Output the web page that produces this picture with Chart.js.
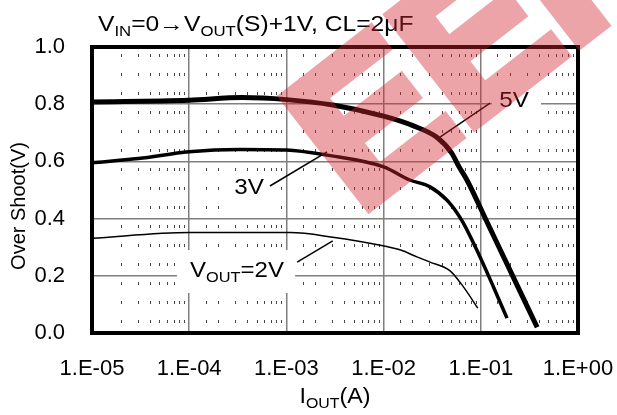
<!DOCTYPE html>
<html>
<head>
<meta charset="utf-8">
<script src="https://cdn.jsdelivr.net/npm/chart.js@4.4.1/dist/chart.umd.min.js"></script>
<style>
  html, body { margin: 0; padding: 0; background: #fff; }
</style>
</head>
<body>
<canvas id="chart" width="617" height="415"></canvas>
<script>
// values
const iout5 = [1e-5, 1e-4, 3.5e-4, 1e-3, 3e-3, 1e-2, 2e-2, 3.5e-2, 5e-2, 6e-2, 7.2e-2, 0.12, 0.2, 0.38];
const over5 = [0.808, 0.814, 0.823, 0.816, 0.797, 0.758, 0.725, 0.685, 0.63, 0.58, 0.535, 0.377, 0.219, 0.02];

const iout3 = [1e-5, 3e-5, 1e-4, 3.3e-4, 1e-3, 2.6e-3, 1e-2, 1.86e-2, 3e-2, 4.47e-2, 5.7e-2, 6.6e-2, 9.1e-2, 0.135, 0.186];
const over3 = [0.595, 0.61, 0.634, 0.642, 0.64, 0.622, 0.581, 0.535, 0.511, 0.465, 0.42, 0.385, 0.29, 0.161, 0.052];

const iout2 = [1e-5, 1e-4, 1.1e-3, 3e-3, 9e-3, 1.5e-2, 2.2e-2, 3e-2, 4.8e-2, 6.6e-2, 9.3e-2];
const over2 = [0.331, 0.351, 0.351, 0.335, 0.308, 0.29, 0.266, 0.248, 0.218, 0.162, 0.087];

// leader lines from the labels to the curves
const lead5x = [0.038, 0.1245];
const lead5y = [0.685, 0.804];
const lead3x = [6.77e-4, 2.62e-3];
const lead3y = [0.514, 0.633];
const lead2x = [1.29e-3, 3.0e-3];
const lead2y = [0.248, 0.322];

const xTickLabels = ['1.E-05', '1.E-04', '1.E-03', '1.E-02', '1.E-01', '1.E+00'];
const yTickLabels = ['0.0', '0.2', '0.4', '0.6', '0.8', '1.0'];

const FONT = '"Liberation Sans", Arial, sans-serif';

function pts(xs, ys) {
  return xs.map((x, i) => ({ x: x, y: ys[i] }));
}

function isDecade(v) {
  const l = Math.log10(v);
  return Math.abs(l - Math.round(l)) < 1e-6;
}

// draws text made of [string, isSub] parts, stretched by sx
function drawRich(ctx, parts, x, y, size, subSize, align, sx) {
  sx = sx || 1;
  let w = 0;
  parts.forEach(p => {
    ctx.font = (p[1] ? subSize : size) + 'px ' + FONT;
    w += ctx.measureText(p[0]).width;
  });
  ctx.save();
  ctx.translate(x, y);
  ctx.scale(sx, 1);
  let cx = align === 'center' ? -w / 2 : 0;
  ctx.textAlign = 'left';
  ctx.textBaseline = 'alphabetic';
  parts.forEach(p => {
    ctx.font = (p[1] ? subSize : size) + 'px ' + FONT;
    ctx.fillText(p[0], cx, p[1] ? 5 : 0);
    cx += ctx.measureText(p[0]).width;
  });
  ctx.restore();
}

// white boxes behind the curve labels, in data units
const labelBoxes = [
  [0.130, 0.416, 0.752, 0.885],
  [2.17e-4, 8.2e-4, 0.423, 0.563],
  [7.48e-5, 1.23e-3, 0.14, 0.29]
];

const decorPlugin = {
  id: 'decor',
  beforeDatasetsDraw(chart) {
    const ctx = chart.ctx, xs = chart.scales.x, ys = chart.scales.y;
    ctx.save();
    ctx.fillStyle = '#fff';
    labelBoxes.forEach(b => {
      const x1 = xs.getPixelForValue(b[0]), x2 = xs.getPixelForValue(b[1]);
      const y1 = ys.getPixelForValue(b[3]), y2 = ys.getPixelForValue(b[2]);
      ctx.fillRect(x1, y1, x2 - x1, y2 - y1);
    });
    ctx.restore();
  },
  afterDatasetsDraw(chart) {
    const ctx = chart.ctx, a = chart.chartArea, xs = chart.scales.x, ys = chart.scales.y;
    ctx.save();
    ctx.strokeStyle = '#000';
    ctx.lineWidth = 4;
    ctx.strokeRect(a.left, a.top, a.right - a.left, a.bottom - a.top);

    ctx.fillStyle = '#000';
    drawRich(ctx, [['5V', false]], xs.getPixelForValue(0.22), ys.getPixelForValue(0.79), 22, 14, 'center', 1.1);
    drawRich(ctx, [['3V', false]], xs.getPixelForValue(4.12e-4), ys.getPixelForValue(0.485), 22, 14, 'center', 1.1);
    drawRich(ctx, [['V', false], ['OUT', true], ['=2V', false]], xs.getPixelForValue(1.02e-4), ys.getPixelForValue(0.196), 22, 15, 'left', 1.09);

    // title and axis titles
    drawRich(ctx, [['V', false], ['IN', true], ['=0\u2192V', false], ['OUT', true], ['(S)+1V, CL=2\u03bcF', false]], 98, 31, 22, 15, 'left', 1.12);
    drawRich(ctx, [['I', false], ['OUT', true], ['(A)', false]], 335, 403, 22, 15, 'center', 1.06);
    ctx.translate(25, 206);
    ctx.rotate(-Math.PI / 2);
    drawRich(ctx, [['Over Shoot(V)', false]], 0, 0, 20, 13, 'center', 1);
    ctx.restore();
  },
  afterDraw(chart) {
    // site watermark, painted opaque off-screen then laid on translucent
    const off = document.createElement('canvas');
    off.width = chart.width;
    off.height = chart.height;
    const o = off.getContext('2d');
    o.translate(359, 214);
    o.rotate(-0.66);
    o.fillStyle = 'rgb(210, 40, 50)';
    o.strokeStyle = 'rgb(210, 40, 50)';
    o.lineWidth = 12;
    o.lineJoin = 'miter';
    o.font = 'bold 200px ' + FONT;
    o.textBaseline = 'alphabetic';
    o.fillText('EEPW', 0, 0);
    o.strokeText('EEPW', 0, 0);
    const ctx = chart.ctx;
    ctx.save();
    ctx.globalAlpha = 0.42;
    ctx.drawImage(off, 0, 0);
    ctx.restore();
  }
};

const ctx = document.getElementById('chart').getContext('2d');

const leaderStyle = { borderColor: '#000', borderWidth: 1.5, pointRadius: 0, fill: false };

const chart = new Chart(ctx, {
  type: 'line',
  data: {
    datasets: [
      { label: '5V', data: pts(iout5, over5), borderColor: '#000', borderWidth: 5, pointRadius: 0, cubicInterpolationMode: 'monotone' },
      { label: '3V', data: pts(iout3, over3), borderColor: '#000', borderWidth: 3.5, pointRadius: 0, cubicInterpolationMode: 'monotone' },
      { label: '2V', data: pts(iout2, over2), borderColor: '#000', borderWidth: 1.5, pointRadius: 0, cubicInterpolationMode: 'monotone' },
      Object.assign({ label: 'l5', data: pts(lead5x, lead5y) }, leaderStyle),
      Object.assign({ label: 'l3', data: pts(lead3x, lead3y) }, leaderStyle),
      Object.assign({ label: 'l2', data: pts(lead2x, lead2y) }, leaderStyle)
    ]
  },
  options: {
    responsive: false,
    animation: false,
    layout: { padding: { top: 47, right: 39, left: 0, bottom: 0 } },
    plugins: { legend: { display: false }, tooltip: { enabled: false } },
    scales: {
      x: {
        type: 'logarithmic',
        min: 1e-5,
        max: 1,
        afterFit(scale) {
          scale.height = 82;
          scale.paddingLeft = 0;
          scale.paddingRight = 0;
        },
        border: {
          display: false,
          dash: (c) => (c.tick && !isDecade(c.tick.value)) ? [3, 16] : [],
          dashOffset: 12
        },
        grid: {
          drawTicks: false,
          color: (c) => (c.tick && !isDecade(c.tick.value)) ? '#444' : '#7f7f7f',
          lineWidth: (c) => (c.tick && !isDecade(c.tick.value)) ? 1 : 1.5
        },
        ticks: {
          autoSkip: false,
          maxRotation: 0,
          minRotation: 0,
          padding: 23,
          color: '#000',
          font: { family: FONT, size: 22 },
          callback: (v) => isDecade(v) ? xTickLabels[Math.round(Math.log10(v)) + 5] : ''
        }
      },
      y: {
        min: 0,
        max: 1,
        afterFit(scale) {
          scale.width = 92;
          scale.paddingTop = 0;
          scale.paddingBottom = 0;
        },
        border: { display: false },
        grid: { drawTicks: false, color: '#7f7f7f', lineWidth: 1.5 },
        ticks: {
          stepSize: 0.2,
          padding: 27,
          color: '#000',
          font: { family: FONT, size: 22 },
          callback: (v) => yTickLabels[Math.round(v * 5)]
        }
      }
    }
  },
  plugins: [decorPlugin]
});
</script>
</body>
</html>
